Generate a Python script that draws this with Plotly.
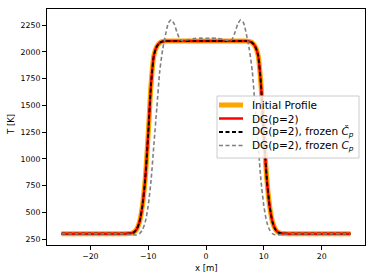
import plotly.graph_objects as go

# x positions [m]
x_m = [-25, -20, -15, -14, -13.5, -13, -12.5, -12, -11.5, -11, -10.5, -10, -9.5, -9, -8.5, -8,
       -7.5, -7, -6.5, -6, -5.5, -5, -4.5, -4, -3, -2, -1, 0, 1, 2, 3, 4, 4.5, 5, 5.5, 6, 6.5,
       7, 7.5, 8, 8.5, 9, 9.5, 10, 10.5, 11, 11.5, 12, 12.5, 13, 13.5, 14, 15, 20, 25]

t_initial = [300, 300, 300, 300, 301, 303, 312, 340, 410, 560, 820, 1230, 1700, 1970, 2050, 2085,
             2097, 2100, 2100, 2100, 2100, 2100, 2100, 2100, 2100, 2100, 2100, 2100, 2100, 2100, 2100, 2100, 2100, 2100, 2100, 2100, 2100,
             2100, 2097, 2085, 2050, 1970, 1700, 1230, 820, 560, 410, 340, 312, 303, 301, 300, 300, 300, 300]

t_dg = [300, 300, 300, 300, 301, 303, 312, 340, 410, 560, 820, 1230, 1700, 1970, 2050, 2085,
        2097, 2100, 2100, 2100, 2100, 2100, 2100, 2100, 2100, 2100, 2100, 2100, 2100, 2100, 2100, 2100, 2100, 2100, 2100, 2100, 2100,
        2100, 2097, 2085, 2050, 1970, 1700, 1230, 820, 560, 410, 340, 312, 303, 301, 300, 300, 300, 300]

t_frozen_chat = [300, 300, 300, 300, 301, 303, 312, 340, 410, 560, 820, 1230, 1700, 1970, 2050, 2085,
                 2097, 2100, 2100, 2100, 2100, 2100, 2100, 2100, 2100, 2100, 2100, 2100, 2100, 2100, 2100, 2100, 2100, 2100, 2100, 2100, 2100,
                 2100, 2097, 2085, 2050, 1970, 1700, 1230, 820, 560, 410, 340, 312, 303, 301, 300, 300, 300, 300]

t_frozen_cp = [298, 298, 298, 297, 296, 293, 289, 288, 300, 335, 410, 560, 800, 1140, 1480, 1820,
               2020, 2160, 2270, 2300, 2260, 2180, 2115, 2100, 2115, 2125, 2128, 2126, 2128, 2125, 2115, 2100, 2115, 2180, 2260, 2300, 2270,
               2160, 2020, 1820, 1480, 1140, 800, 560, 410, 335, 300, 288, 289, 293, 296, 297, 298, 298, 298]

x_ticks = [-20, -10, 0, 10, 20]
y_ticks = [250, 500, 750, 1000, 1250, 1500, 1750, 2000, 2250]

series_names = ["Initial Profile", "DG(p=2)",
                "DG(p=2), frozen <i>Č<sub>p</sub></i>",
                "DG(p=2), frozen <i>C<sub>p</sub></i>"]
series_data = [t_initial, t_dg, t_frozen_chat, t_frozen_cp]
series_styles = [dict(color="#FFA500", width=5),
                 dict(color="#FF0000", width=2.5),
                 dict(color="black", width=1.8, dash="4px,2.5px"),
                 dict(color="#808080", width=1.6, dash="4px,2.5px")]

W, H = 374, 279
ML, MR, MT, MB = 47, 9, 9, 34
PW, PH = W - ML - MR, H - MT - MB


def px_to_paper(px, py):
    return (px - ML) / PW, (H - MB - py) / PH


fig = go.Figure()
for name, data, style in zip(series_names, series_data, series_styles):
    fig.add_trace(go.Scatter(x=x_m, y=data, mode="lines", name=name,
                             line=dict(shape="spline", smoothing=0.6, **style)))

# legend drawn as a framed box
shapes = []
annotations = []
bx0, by0 = px_to_paper(217, 158)
bx1, by1 = px_to_paper(359, 96)
shapes.append(dict(type="rect", xref="paper", yref="paper", x0=bx0, y0=by0, x1=bx1, y1=by1,
                   line=dict(color="#cccccc", width=1), fillcolor="rgba(255,255,255,0.85)", layer="above"))
entry_y = [105, 118.5, 132, 145.5]
for name, style, ey in zip(series_names, series_styles, entry_y):
    lx0, ly = px_to_paper(219, ey)
    lx1, _ = px_to_paper(243, ey)
    shapes.append(dict(type="line", xref="paper", yref="paper", x0=lx0, x1=lx1, y0=ly, y1=ly,
                       line=style, layer="above"))
    tx, _ = px_to_paper(250, ey)
    annotations.append(dict(text=name, xref="paper", yref="paper", x=tx, y=ly,
                            xanchor="left", yanchor="middle", showarrow=False,
                            font=dict(size=10.5, color="black")))

# axis titles
ax_x, ax_y = px_to_paper(206, 268)
annotations.append(dict(text="x [m]", xref="paper", yref="paper", x=ax_x, y=ax_y,
                        xanchor="center", yanchor="middle", showarrow=False,
                        font=dict(size=8.5, color="black")))
ay_x, ay_y = px_to_paper(11, 125)
annotations.append(dict(text="T [K]", xref="paper", yref="paper", x=ay_x, y=ay_y,
                        xanchor="center", yanchor="middle", showarrow=False, textangle=-90,
                        font=dict(size=8.5, color="black")))

axis_common = dict(showline=True, linecolor="black", linewidth=1, mirror=True,
                   ticks="outside", ticklen=4, tickwidth=1, tickcolor="black",
                   showgrid=False, zeroline=False, automargin=False,
                   tickfont=dict(size=7.8, color="black"))

fig.update_layout(
    width=W, height=H,
    margin=dict(l=ML, r=MR, t=MT, b=MB),
    paper_bgcolor="white", plot_bgcolor="white",
    font=dict(family="DejaVu Sans", color="black"),
    showlegend=False,
    shapes=shapes,
    annotations=annotations,
    xaxis=dict(range=[-27.5, 27.5], tickvals=x_ticks, **axis_common),
    yaxis=dict(range=[194, 2400], tickvals=y_ticks, **axis_common),
)

fig.write_html("out.html",
               config={"displayModeBar": False},
               post_script="document.body.style.margin='0';document.body.style.padding='0';")
